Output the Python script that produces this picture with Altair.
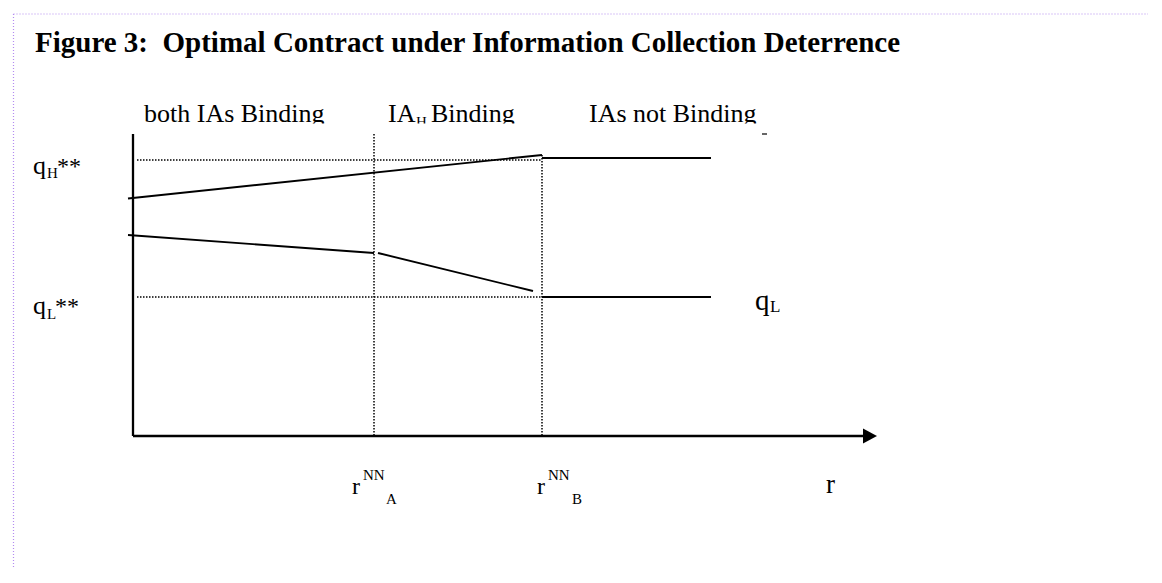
import altair as alt
import pandas as pd

# Chart units: r grows to the right, q grows upward (origin = axes corner)

# solid curves of the optimal contract (start r, start q, end r, end q)
curve_r1 = [-0.5, 40.9, -0.5, 24.5, 40.9]
curve_q1 = [23.75, 27.8, 20.1, 18.3, 13.9]
curve_r2 = [40.9, 57.8, 24.1, 40.0, 57.8]
curve_q2 = [28.1, 27.8, 18.3, 14.5, 13.9]

# axes
axis_r1 = [0.0, 0.0]
axis_q1 = [30.2, 0.0]
axis_r2 = [0.0, 73.0]
axis_q2 = [0.0, 0.0]
arrow_r = [73.7]
arrow_q = [0.0]

# dotted guide lines (r^NN_A, r^NN_B, qH**, qL**)
guide_r1 = [24.1, 40.9, 0.4, 0.4]
guide_q1 = [30.2, 28.1, 27.6, 13.9]
guide_r2 = [24.1, 40.9, 40.9, 40.9]
guide_q2 = [0.0, 0.0, 27.6, 13.9]

# page frame (dotted lavender)
frame_r1 = [-11.95, -11.95]
frame_q1 = [42.2, 42.2]
frame_r2 = [102.0, -11.95]
frame_q2 = [42.2, -15.0]

# labels
label_text = ["both IAs Binding", "IA", "H", "Binding", "IAs not Binding",
              "q", "H", "**", "q", "L", "**",
              "q", "L",
              "r", "NN", "A", "r", "NN", "B", "r"]
label_r = [1.1, 25.5, 28.3, 29.8, 45.6,
           -10.0, -8.6, -7.6, -10.0, -8.6, -7.8,
           62.2, 63.7,
           21.9, 23.0, 25.3, 40.4, 41.5, 43.9, 69.3]
label_q = [31.4, 31.4, 30.9, 31.4, 31.4,
           26.2, 25.8, 26.2, 12.2, 11.7, 12.2,
           12.6, 12.4,
           -5.8, -4.4, -6.8, -5.8, -4.4, -6.8, -5.7]
label_size = [26, 26, 15, 26, 26,
              26, 15, 24, 26, 15, 24,
              29, 17,
              24, 15, 15, 24, 15, 15, 27]

title_text = ["Figure 3:\u00a0 Optimal Contract under Information Collection Deterrence"]
title_r = [-9.8]
title_q = [38.4]

# strip that cuts the bottom of the header line
mask_r1 = [0.7]
mask_r2 = [63.7]
mask_q1 = [31.25]
mask_q2 = [30.3]
tick_r1 = [62.9]
tick_r2 = [63.4]
tick_q = [30.2]

xs = alt.Scale(domain=[-12.5, 101.5], nice=False, zero=False)
ys = alt.Scale(domain=[-13.2, 42.8], nice=False, zero=False)


def seg_layer(r1, q1, r2, q2, **mark):
    df = pd.DataFrame({"r1": r1, "q1": q1, "r2": r2, "q2": q2})
    return alt.Chart(df).mark_rule(**mark).encode(
        x=alt.X("r1:Q", scale=xs, axis=None),
        y=alt.Y("q1:Q", scale=ys, axis=None),
        x2="r2:Q",
        y2="q2:Q",
    )


frame = seg_layer(frame_r1, frame_q1, frame_r2, frame_q2,
                  color="#b48cf0", strokeWidth=1.2, strokeDash=[1, 2])
guides = seg_layer(guide_r1, guide_q1, guide_r2, guide_q2,
                   color="black", strokeWidth=1.5, strokeDash=[1.5, 1.5])
axes = seg_layer(axis_r1, axis_q1, axis_r2, axis_q2,
                 color="black", strokeWidth=2.3)
curves = seg_layer(curve_r1, curve_q1, curve_r2, curve_q2,
                   color="black", strokeWidth=1.9)

arrow = alt.Chart(pd.DataFrame({"r": arrow_r, "q": arrow_q})).mark_point(
    shape="M-1,-1.07L1,0L-1,1.07Z", size=196, filled=True, color="black",
    opacity=1, strokeWidth=0
).encode(
    x=alt.X("r:Q", scale=xs, axis=None),
    y=alt.Y("q:Q", scale=ys, axis=None),
)

labels = alt.Chart(pd.DataFrame({
    "t": label_text, "r": label_r, "q": label_q, "s": label_size
})).mark_text(
    align="left", baseline="alphabetic", font="Liberation Serif", color="black"
).encode(
    x=alt.X("r:Q", scale=xs, axis=None),
    y=alt.Y("q:Q", scale=ys, axis=None),
    text="t:N",
    size=alt.Size("s:Q", scale=None),
)

mask = alt.Chart(pd.DataFrame({
    "r1": mask_r1, "r2": mask_r2, "q1": mask_q1, "q2": mask_q2
})).mark_rect(color="white").encode(
    x=alt.X("r1:Q", scale=xs, axis=None),
    x2="r2:Q",
    y=alt.Y("q1:Q", scale=ys, axis=None),
    y2="q2:Q",
)

tick = seg_layer(tick_r1, tick_q, tick_r2, tick_q, color="#333333", strokeWidth=1.5)

title = alt.Chart(pd.DataFrame({"t": title_text, "r": title_r, "q": title_q})).mark_text(
    align="left", baseline="alphabetic", font="Liberation Serif",
    fontWeight="bold", fontSize=29, color="black"
).encode(
    x=alt.X("r:Q", scale=xs, axis=None),
    y=alt.Y("q:Q", scale=ys, axis=None),
    text="t:N",
)

chart = alt.layer(
    frame, guides, axes, curves, arrow, labels, mask, tick, title
).properties(
    width=1140, height=560, padding=0,
    autosize=alt.AutoSizeParams(type="none"),
    background="white",
).configure_view(stroke=None)

chart.save("out.html", embed_options={"renderer": "svg", "actions": False})
